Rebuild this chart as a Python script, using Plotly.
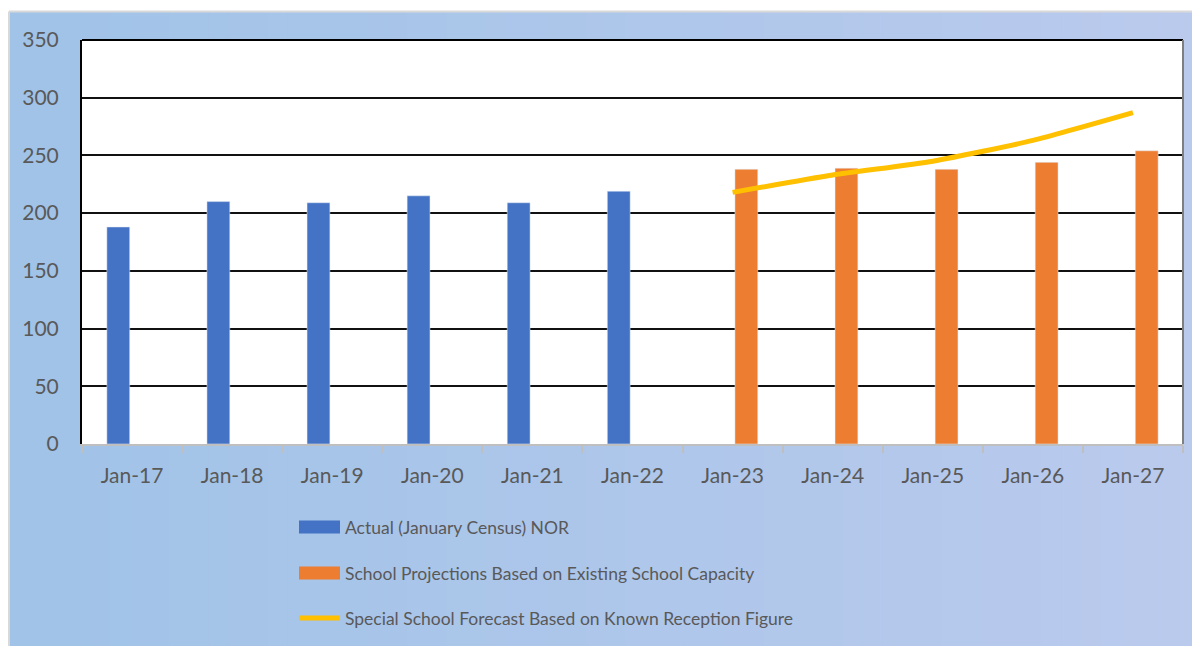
import plotly.graph_objects as go

categories = ["Jan-17", "Jan-18", "Jan-19", "Jan-20", "Jan-21", "Jan-22",
              "Jan-23", "Jan-24", "Jan-25", "Jan-26", "Jan-27"]
actual_nor = [188, 210, 209, 215, 209, 219, None, None, None, None, None]
school_projection = [None, None, None, None, None, None, 238, 239, 238, 244, 254]
special_forecast = [None, None, None, None, None, None, 218, 233, 245, 263, 287]
y_ticks = [0, 50, 100, 150, 200, 250, 300, 350]
series_names = ["Actual (January Census) NOR",
                "School Projections Based on Existing School Capacity",
                "Special School Forecast Based on Known Reception Figure"]

BLUE = "#4472C4"
ORANGE = "#ED7D31"
YELLOW = "#FFC000"
TEXT = "#595959"
FONT = "Lato"

# the page body has an 8px margin; work in page pixels and shift
OFF = 8
W, H = 1200 - OFF, 646 - OFF
L, R, T, B = 82 - OFF, 1183 - OFF, 40 - OFF, 444 - OFF
pw, ph = R - L, B - T


def px(x):
    return (x - OFF - L) / pw


def py(y):
    return (B - (y - OFF)) / ph


fig = go.Figure()
fig.add_trace(go.Bar(x=categories, y=actual_nor, name=series_names[0],
                     marker_color=BLUE, showlegend=False))
fig.add_trace(go.Bar(x=categories, y=school_projection, name=series_names[1],
                     marker_color=ORANGE, showlegend=False))
fig.add_trace(go.Scatter(x=categories, y=special_forecast, name=series_names[2],
                         mode="lines", line=dict(color=YELLOW, width=5, shape="spline", smoothing=0.6),
                         showlegend=False))

shapes = []
# gradient background
n = 60
c0 = (0xA0, 0xC3, 0xE7)
c1 = (0xBA, 0xCA, 0xED)
x0p, x1p = 10, 1200
for i in range(n):
    t = i / (n - 1)
    c = tuple(round(c0[k] + (c1[k] - c0[k]) * t) for k in range(3))
    xa = x0p + (x1p - x0p) * i / n
    xb = x0p + (x1p - x0p) * (i + 1) / n + 1
    shapes.append(dict(type="rect", xref="paper", yref="paper", layer="below",
                       x0=px(xa), x1=px(xb), y0=py(12), y1=py(650),
                       line=dict(width=0), fillcolor="rgb(%d,%d,%d)" % c))
# outer frame lines
shapes.append(dict(type="line", xref="paper", yref="paper", layer="below",
                   x0=px(9), x1=px(1202), y0=py(11.5), y1=py(11.5),
                   line=dict(color="#D9D9D9", width=2)))
shapes.append(dict(type="line", xref="paper", yref="paper", layer="below",
                   x0=px(9), x1=px(9), y0=py(11.5), y1=py(650),
                   line=dict(color="#D9D9D9", width=2)))
# plot area white
shapes.append(dict(type="rect", xref="paper", yref="paper", layer="below",
                   x0=0, x1=1, y0=0, y1=1, line=dict(width=0), fillcolor="white"))
# borders
shapes.append(dict(type="line", xref="paper", yref="paper", layer="above",
                   x0=0, x1=1, y0=1, y1=1, line=dict(color="black", width=2)))
shapes.append(dict(type="line", xref="paper", yref="paper", layer="above",
                   x0=1, x1=1, y0=0, y1=1, line=dict(color="#7F7F7F", width=2)))

# manual legend
annotations = []
leg_rows = [(527, BLUE, "rect"), (573, ORANGE, "rect"), (618, YELLOW, "line")]
for (yc, col, kind), name in zip(leg_rows, series_names):
    if kind == "rect":
        shapes.append(dict(type="rect", xref="paper", yref="paper",
                           x0=px(299), x1=px(340), y0=py(yc - 6.5), y1=py(yc + 6.5),
                           line=dict(width=0), fillcolor=col))
    else:
        shapes.append(dict(type="line", xref="paper", yref="paper",
                           x0=px(299), x1=px(340), y0=py(yc), y1=py(yc),
                           line=dict(color=col, width=5)))
    annotations.append(dict(xref="paper", yref="paper", x=px(343), y=py(yc),
                            xanchor="left", yanchor="middle", showarrow=False,
                            text=name, font=dict(family=FONT, size=17.5, color=TEXT)))

fig.update_layout(
    width=W, height=H,
    margin=dict(l=L, r=W - R, t=T, b=H - B),
    paper_bgcolor="white",
    plot_bgcolor="rgba(0,0,0,0)",
    barmode="group", bargap=0.45, bargroupgap=0.17,
    shapes=shapes, annotations=annotations,
    font=dict(family=FONT, color=TEXT),
    xaxis=dict(type="category", categoryorder="array", categoryarray=categories,
               tickson="boundaries", ticks="outside", ticklen=7, tickwidth=2,
               tickcolor="#BFBFBF", showline=True, linecolor="#BFBFBF", linewidth=2,
               showgrid=False, tickfont=dict(family=FONT, size=21, color=TEXT),
               ticklabelstandoff=12),
    yaxis=dict(range=[0, 350], tickvals=y_ticks, showgrid=True, gridcolor="#111111",
               gridwidth=2, zeroline=False, showline=True, linecolor="black", linewidth=2,
               ticks="", tickfont=dict(family=FONT, size=21, color=TEXT),
               ticklabelstandoff=17),
)

fig.write_html("out.html")
